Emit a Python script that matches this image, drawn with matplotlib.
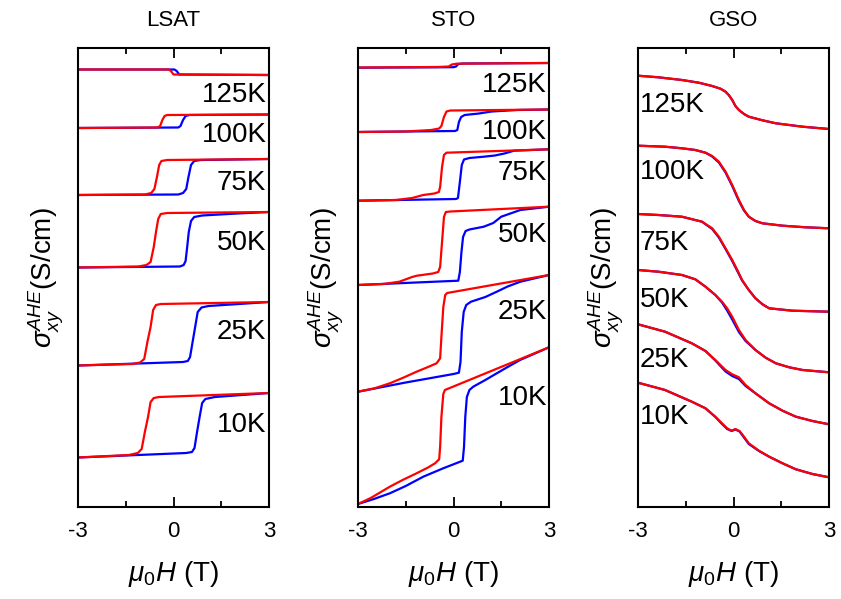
import matplotlib
matplotlib.use('Agg')
import matplotlib.pyplot as plt
from matplotlib.ticker import FixedLocator

plt.rcParams['font.family'] = ['Liberation Sans', 'DejaVu Sans']
plt.rcParams['mathtext.fontset'] = 'custom'
plt.rcParams['mathtext.rm'] = 'Liberation Sans'
plt.rcParams['mathtext.it'] = 'Liberation Sans:italic'
plt.rcParams['mathtext.default'] = 'it'

# field in T, signal in arbitrary units (offset curves)
# ---- LSAT ----
lsat_labels = ['125K', '100K', '75K', '50K', '25K', '10K']
lsat_label_y = [412, 372, 324, 264, 175, 82]
lsat_red = [
    ([-3, -0.15, -0.08, 0.0, 3], [437.5, 437.5, 436, 432.5, 432]),
    ([-3, -0.5, -0.42, -0.35, -0.28, -0.2, 3], [379, 379.5, 381, 387, 391, 392, 392.5]),
    ([-3, -0.9, -0.7, -0.6, -0.52, -0.45, -0.38, -0.2, 3], [312, 312.5, 314, 318, 330, 342, 346, 347, 348]),
    ([-3, -1.1, -0.85, -0.72, -0.62, -0.55, -0.48, -0.4, -0.2, 3],
     [239.5, 240.5, 242, 245, 260, 275, 288, 293, 294, 295]),
    ([-3, -1.3, -1.05, -0.92, -0.82, -0.72, -0.64, -0.55, -0.4, 3],
     [141.5, 143, 144.5, 148, 165, 180, 197, 202, 203, 205]),
    ([-3, -1.4, -1.12, -1.0, -0.9, -0.8, -0.72, -0.62, -0.45, 3],
     [49.5, 52, 54, 58, 75, 90, 105, 109, 110, 114]),
]
lsat_blue = [
    ([-3, 0.03, 0.1, 0.18, 3], [437.5, 437.5, 436, 432.5, 432]),
    ([-3, 0.15, 0.22, 0.3, 0.38, 0.5, 3], [379, 379.5, 381, 387, 391, 392, 392.5]),
    ([-3, 0.15, 0.3, 0.4, 0.47, 0.55, 0.65, 0.85, 3], [312, 312.5, 314, 318, 330, 342, 346, 347, 348]),
    ([-3, 0.2, 0.32, 0.38, 0.43, 0.48, 0.55, 0.65, 0.9, 2, 3],
     [239.5, 240.5, 242, 246, 260, 275, 286, 290, 291.5, 293.5, 295]),
    ([-3, 0.3, 0.45, 0.52, 0.6, 0.68, 0.76, 0.88, 1.1, 3],
     [141.5, 145, 146, 150, 165, 180, 195, 199.5, 201, 205]),
    ([-3, 0.4, 0.58, 0.66, 0.74, 0.82, 0.9, 1.0, 1.3, 3],
     [49.5, 54, 55, 59, 75, 90, 104, 108, 110, 114]),
]

# ---- STO ----
sto_labels = ['125K', '100K', '75K', '50K', '25K', '10K']
sto_label_y = [422, 375, 334, 272, 195, 109]
sto_red = [
    ([-3, -0.5, -0.15, -0.05, 0.1, 3], [439.5, 440, 440.5, 442.5, 443.3, 444]),
    ([-3, -1.5, -0.7, -0.45, -0.38, -0.3, -0.22, -0.1, 3],
     [375, 375.5, 377, 378.5, 381, 390, 395.5, 396.5, 397.5]),
    ([-3, -1.8, -1.3, -0.95, -0.6, -0.46, -0.42, -0.36, -0.3, -0.22, 3],
     [306.3, 307, 309, 312, 313.5, 315, 320, 340, 352, 354.3, 357.7]),
    ([-3, -2.2, -1.7, -1.3, -1.15, -0.65, -0.48, -0.42, -0.36, -0.3, -0.24, -0.1, 3],
     [222, 223, 225.3, 230, 231.3, 233.5, 235, 240, 265, 290, 295, 295.5, 300.3]),
    ([-3, -2.5, -2.0, -1.6, -1.16, -0.8, -0.53, -0.42, -0.38, -0.32, -0.26, -0.2, 3],
     [115.3, 118.5, 123.7, 129, 135.3, 140, 143.7, 148.7, 170, 200, 212, 214, 232]),
    ([-3, -2.6, -2.0, -1.6, -1.16, -0.8, -0.58, -0.45, -0.42, -0.38, -0.32, -0.27, 3],
     [3, 9, 20.3, 27, 33.7, 39.5, 43.7, 47.7, 60, 90, 113, 117, 159.7]),
]
sto_blue = [
    ([-3, 0.0, 0.08, 0.15, 0.3, 3], [439.3, 439.8, 440.5, 443, 443.5, 444]),
    ([-3, 0.05, 0.12, 0.17, 0.24, 0.35, 0.8, 1.2, 2, 3],
     [375, 376, 377, 385, 390, 392, 393.5, 395.5, 397, 397.5]),
    ([-3, 0.08, 0.14, 0.2, 0.26, 0.33, 0.5, 0.95, 1.3, 1.6, 1.9, 3],
     [306.3, 308, 309, 325, 342, 347.5, 349, 350.3, 351.5, 353.5, 356.3, 357.7]),
    ([-3, 0.15, 0.2, 0.25, 0.3, 0.38, 0.5, 0.95, 1.25, 1.5, 2.1, 3],
     [222, 226.3, 235, 255, 270, 276, 277.5, 280.3, 284, 290.3, 297, 300.3]),
    ([-3, -1.5, 0, 0.17, 0.22, 0.26, 0.32, 0.4, 0.55, 1.0, 1.36, 1.7, 2.1, 3],
     [115.3, 124.5, 133, 134.3, 145, 175, 195, 202, 205.3, 210, 215.3, 220.5, 225.3, 232]),
    ([-3, -2.5, -2.0, -1.5, -0.95, -0.3, 0.29, 0.33, 0.37, 0.42, 0.5, 0.62, 1.0, 1.36, 1.7, 2.09, 3],
     [3, 8, 13.7, 21, 30.3, 39, 46.3, 60, 90, 110, 117, 120.3, 127, 133.7, 140, 147, 159.7]),
]

# ---- GSO ----
gso_labels = ['125K', '100K', '75K', '50K', '25K', '10K']
gso_label_y = [402, 335, 264, 207, 147, 90]
gso_red = [
    ([-3, -2.36, -1.62, -1.09, -0.67, -0.41, -0.25, -0.15, -0.04, 0.06, 0.17, 0.33, 0.48, 0.91, 1.33, 2.17, 3],
     [431.3, 429.7, 427, 424.3, 421, 418.3, 415.3, 412, 407, 401, 397, 393, 390.3, 386.7, 383.7, 380.3, 378]),
    ([-3, -2.15, -1.62, -1.2, -0.88, -0.67, -0.46, -0.25, -0.04, 0.17, 0.33, 0.48, 0.69, 0.91, 1.54, 2.27, 3],
     [361.3, 360.3, 358.7, 357, 354.3, 351, 345.3, 335.3, 322, 307, 297, 290.3, 286, 283.7, 281.3, 279.7, 278.7]),
    ([-3, -2.36, -1.62, -0.99, -0.67, -0.46, -0.25, -0.04, 0.12, 0.27, 0.48, 0.69, 0.91, 1.12, 1.85, 3],
     [293, 292, 290.3, 285.3, 278.7, 270.3, 258.7, 247, 237, 227, 217, 208.7, 202.7, 198.7, 196.3, 195.3]),
    ([-3, -2.36, -1.62, -1.2, -0.88, -0.57, -0.36, -0.2, -0.04, 0.17, 0.38, 0.69, 1.01, 1.33, 1.75, 2.17, 3],
     [237, 235.3, 232, 227.7, 220.3, 212, 205.3, 198.7, 190.3, 177, 167, 157, 149.3, 143.7, 139.7, 137, 134.7]),
    ([-3, -2.15, -1.31, -0.88, -0.57, -0.25, -0.04, 0.17, 0.38, 0.69, 1.12, 1.54, 1.96, 2.48, 3],
     [182.7, 175.3, 163.7, 156, 147, 137, 132.7, 129.7, 122, 113.7, 103.7, 96.3, 90.3, 86, 82.7]),
    ([-3, -2.15, -1.31, -0.88, -0.57, -0.36, -0.2, -0.06, 0.06, 0.19, 0.33, 0.48, 0.8, 1.12, 1.54, 1.96, 2.48, 3],
     [124.3, 117, 105.3, 98.7, 90.3, 83.7, 78.7, 76.3, 78, 76, 70.3, 63.7, 56.3, 50.3, 43.7, 37.7, 33, 29.7]),
]
gso_blue = [
    ([-3, -2.36, -1.62, -1.09, -0.67, -0.41, -0.25, -0.15, -0.04, 0.06, 0.17, 0.33, 0.48, 0.91, 1.33, 2.17, 3],
     [431.3, 429.7, 427, 424.3, 421, 418.3, 415.3, 412, 407, 401, 397, 393, 390.3, 386.7, 383.7, 380.3, 378]),
    ([-3, -2.15, -1.62, -1.2, -0.88, -0.67, -0.46, -0.25, -0.04, 0.17, 0.33, 0.48, 0.69, 0.91, 1.54, 2.27, 3],
     [361.3, 360.3, 358.7, 357, 354.3, 350.5, 344.5, 334.5, 321, 306, 296.5, 290.3, 286, 283.7, 281.3, 279.7, 278.7]),
    ([-3, -2.36, -1.62, -0.99, -0.67, -0.46, -0.25, -0.04, 0.12, 0.27, 0.48, 0.69, 0.91, 1.12, 1.85, 3],
     [293, 292, 290.3, 285.3, 278, 269.5, 258, 246, 236, 226.5, 217, 208.7, 202.7, 198.7, 196.3, 195.3]),
    ([-3, -2.36, -1.62, -1.2, -0.88, -0.57, -0.36, -0.2, -0.04, 0.17, 0.38, 0.69, 1.01, 1.33, 1.75, 2.17, 3],
     [237, 235.3, 232, 227.7, 220.3, 212, 204.5, 196.5, 187.5, 175, 166, 157, 149.3, 143.7, 139.7, 137, 134.7]),
    ([-3, -2.15, -1.31, -0.88, -0.57, -0.25, -0.04, 0.17, 0.38, 0.69, 1.12, 1.54, 1.96, 2.48, 3],
     [182.7, 175.3, 163.7, 156, 146.5, 135.5, 131, 128, 121, 113.7, 103.7, 96.3, 90.3, 86, 82.7]),
    ([-3, -2.15, -1.31, -0.88, -0.57, -0.36, -0.2, -0.06, 0.06, 0.19, 0.33, 0.48, 0.8, 1.12, 1.54, 1.96, 2.48, 3],
     [124.3, 117, 105.3, 98.7, 90, 83, 78, 76, 77.5, 75.5, 69.5, 63, 56, 50.3, 43.7, 37.7, 33, 29.7]),
]

panels = [
    ('LSAT', lsat_red, lsat_blue, lsat_labels, lsat_label_y, 2.92, 'right'),
    ('STO', sto_red, sto_blue, sto_labels, sto_label_y, 2.94, 'right'),
    ('GSO', gso_red, gso_blue, gso_labels, gso_label_y, -2.94, 'left'),
]
lefts = [78, 358, 638]

fig = plt.figure(figsize=(8.41, 5.99), dpi=100)
for (title, red, blue, labels, label_y, lx, ha), left in zip(panels, lefts):
    ax = fig.add_axes([left / 841, 1 - 507 / 599, 191 / 841, 459 / 599])
    for x, y in blue:
        ax.plot(x, y, color='#0000ff', lw=1.6)
    for x, y in red:
        ax.plot(x, y, color='#ff0000', lw=1.6)
    for lab, yy in zip(labels, label_y):
        ax.text(lx, yy, lab, ha=ha, va='center', fontsize=20)
    ax.set_xlim(-3, 3)
    ax.set_ylim(0, 459)
    ax.set_yticks([])
    ax.set_xticks([-3, 0, 3])
    ax.set_xticklabels(['-3', '0', '3'])
    ax.xaxis.set_minor_locator(FixedLocator([-1.5, 1.5]))
    ax.tick_params(axis='x', which='both', direction='in', top=True, width=1.3, labelsize=16, pad=10)
    ax.tick_params(axis='x', which='major', length=7)
    ax.tick_params(axis='x', which='minor', length=4)
    for s in ax.spines.values():
        s.set_linewidth(1.5)
    ax.set_title(title, fontsize=16, pad=16)
    ax.set_xlabel(r'$\mu_0H$ (T)', fontsize=20, labelpad=12)
    ax.set_ylabel(r'$\sigma_{xy}^{AHE}$(S/cm)', fontsize=20, labelpad=9)

fig.savefig('out.png', dpi=100)
